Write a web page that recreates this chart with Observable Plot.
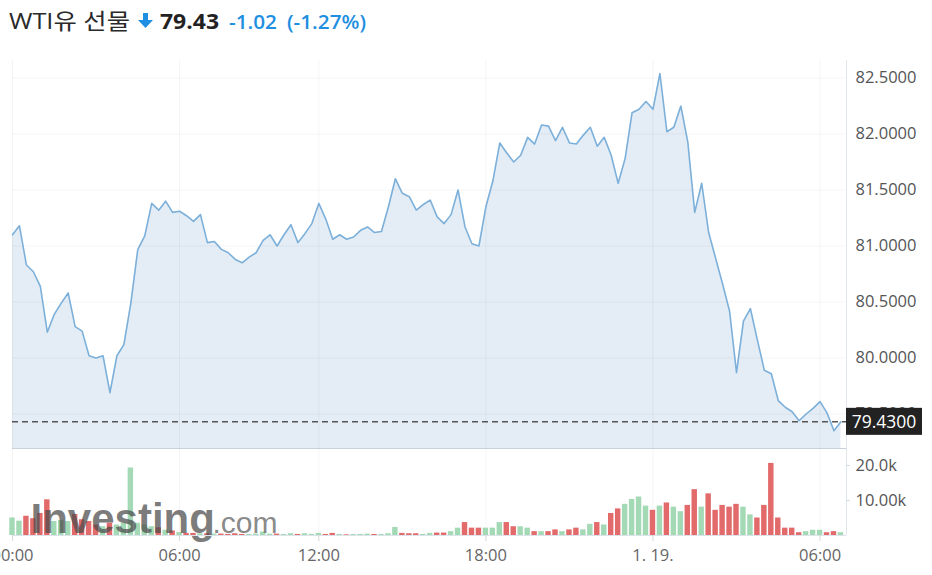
<!DOCTYPE html>
<html>
<head>
<meta charset="utf-8">
<script src="https://cdn.jsdelivr.net/npm/d3@7"></script>
<script src="https://cdn.jsdelivr.net/npm/@observablehq/plot@0.6"></script>
<style>
  html, body { margin: 0; padding: 0; background: #fff; }
  body { width: 932px; height: 575px; overflow: hidden; position: relative; font-family: "Open Sans", "Noto Sans CJK KR", sans-serif; }
  #title { position: absolute; left: 0; top: 0; }
  #price { position: absolute; left: 0; top: 40px; }
  #vol { position: absolute; left: 0; top: 448px; }
</style>
</head>
<body>
<svg id="title" width="932" height="40">
  <text x="9" y="28.5" font-size="21.5" fill="#2a2a2a" font-family="Open Sans, Noto Sans CJK KR" textLength="121" lengthAdjust="spacingAndGlyphs">WTI유 선물</text>
  <path d="M143 13 H148 V20 H153 L145.5 28 L138 20 H143 Z" fill="#1e8fe1"></path>
  <text x="160" y="28.5" font-size="21.5" font-weight="bold" fill="#222" font-family="Open Sans" textLength="59" lengthAdjust="spacingAndGlyphs">79.43</text>
  <text x="229" y="28.5" font-size="20" font-weight="600" fill="#1e8fe1" font-family="Open Sans" textLength="48" lengthAdjust="spacingAndGlyphs">-1.02</text>
  <text x="287" y="28.5" font-size="20" font-weight="600" fill="#1e8fe1" font-family="Open Sans" textLength="79" lengthAdjust="spacingAndGlyphs">(-1.27%)</text>
</svg>
<div id="price"></div>
<div id="vol"></div>
<script>
// 15-minute bars, index 0 = 00:00 (Jan 18); 07:00-08:00 session break skipped
const price = [
  81.10, 81.18, 80.83, 80.77, 80.64, 80.23, 80.39, 80.49, 80.58, 80.28,
  80.24, 80.02, 80.00, 80.02, 79.69, 80.02, 80.12, 80.49, 80.97, 81.09,
  81.38, 81.32, 81.40, 81.30, 81.31, 81.27, 81.22, 81.28, 81.03, 81.04,
  80.97, 80.94, 80.88, 80.85, 80.90, 80.94, 81.05, 81.10, 81.00, 81.10,
  81.19, 81.03, 81.11, 81.20, 81.38, 81.24, 81.06, 81.10, 81.06, 81.08,
  81.14, 81.17, 81.12, 81.13, 81.35, 81.60, 81.47, 81.44, 81.32, 81.37,
  81.41, 81.26, 81.20, 81.28, 81.50, 81.17, 81.02, 81.00, 81.35, 81.58,
  81.92, 81.83, 81.75, 81.81, 81.97, 81.91, 82.08, 82.07, 81.94, 82.06,
  81.92, 81.91, 81.99, 82.06, 81.89, 81.97, 81.81, 81.56, 81.78, 82.19,
  82.22, 82.29, 82.22, 82.54, 82.02, 82.06, 82.25, 81.93, 81.30, 81.56,
  81.12, 80.89, 80.66, 80.42, 79.87, 80.33, 80.44, 80.16, 79.89, 79.86,
  79.62, 79.56, 79.52, 79.44, 79.50, 79.55, 79.61, 79.51, 79.35, 79.43
];
// volume in thousands
const volume = [
  5.0, 4.1, 5.5, 4.8, 6.3, 10.2, 4.0, 4.3, 4.0, 6.0,
  4.5, 4.0, 3.0, 2.5, 3.5, 3.0, 3.5, 19.3, 3.5, 3.0,
  2.5, 2.2, 1.5, 1.3, 0.8, 0.6, 0.6, 0.5, 0.5, 0.4,
  0.4, 0.3, 0.5, 0.3, 0.3, 0.4, 1.0, 0.4, 0.4, 0.3,
  0.5, 0.3, 0.5, 0.3, 0.6, 0.3, 0.6, 0.3, 0.2, 0.3,
  0.3, 0.4, 0.3, 0.3, 0.5, 2.3, 0.6, 0.5, 0.5, 0.3,
  0.6, 0.7, 0.7, 1.1, 2.1, 3.7, 2.1, 2.1, 2.1, 2.1,
  3.7, 3.7, 2.5, 2.5, 2.1, 1.1, 1.1, 1.1, 1.6, 1.1,
  1.6, 2.1, 1.6, 3.2, 3.7, 3.0, 6.3, 7.6, 8.9, 10.3,
  11.0, 8.4, 7.2, 8.4, 9.3, 8.1, 6.8, 8.6, 13.1, 8.1,
  11.9, 7.2, 8.6, 8.1, 8.9, 8.1, 5.9, 5.0, 8.6, 20.6,
  5.0, 2.1, 2.1, 0.8, 1.1, 1.5, 1.5, 0.8, 1.1, 0.8
];
const tickIndex = [0, 24, 44, 68, 92, 116];
const tickLabels = ["00:00", "06:00", "12:00", "18:00", "1. 19.", "06:00"];
const priceTicks = [79.5, 80.0, 80.5, 81.0, 81.5, 82.0, 82.5];
const volTicks = [10, 20];
const volTickLabels = ["10.00k", "20.0k"];
const lastPrice = 79.43;

const priceDomain = [79.192, 82.656];
const volDomain = [0, 24.86];
const xDomain = [0, 119.8];

const data = price.map((p, i) => ({i, p, v: volume[i], up: i === 0 ? true : p >= price[i - 1]}));

const fontFam = "'Open Sans', 'Noto Sans', sans-serif";
const gridStroke = "#000";
const gridOpacity = 0.045;

const pricePlot = Plot.plot({
  width: 932, height: 408,
  marginTop: 20, marginBottom: 0, marginLeft: 12, marginRight: 86,
  x: {domain: xDomain, axis: null},
  y: {domain: priceDomain, axis: null},
  style: {fontFamily: fontFam, background: "#fff"},
  marks: [
    Plot.areaY(data, {x: "i", y1: priceDomain[0], y2: "p", fill: "#e4edf5"}),
    Plot.ruleY(priceTicks, {stroke: gridStroke, strokeOpacity: gridOpacity}),
    Plot.ruleX(tickIndex, {stroke: gridStroke, strokeOpacity: gridOpacity}),
    Plot.lineY(data, {x: "i", y: "p", stroke: "#7cb0da", strokeWidth: 1.6}),
    Plot.ruleY([lastPrice], {stroke: "#555", strokeWidth: 1.5, strokeDasharray: "6,4"}),
    Plot.ruleX([xDomain[1]], {stroke: "#e2e7ed"}),
    Plot.text(priceTicks, {y: d => d, frameAnchor: "right", dx: 9, textAnchor: "start", lineAnchor: "middle",
      text: d => d.toFixed(4), fill: "#555", fontSize: 16.5})
  ]
});
document.getElementById("price").appendChild(pricePlot);

// last-price label box on the right axis
(function () {
  const s = pricePlot.scale("y");
  const yf = s && s.apply ? s.apply : d3.scaleLinear(s.domain, s.range);
  const xs = pricePlot.scale("x");
  const xf = xs && xs.apply ? xs.apply : d3.scaleLinear(xs.domain, xs.range);
  const yp = yf(lastPrice);
  const x0 = xf(xDomain[1]);
  const g = d3.select(pricePlot).append("g");
  g.append("rect").attr("x", x0).attr("y", yp - 13.5).attr("width", 76).attr("height", 27).attr("fill", "#222");
  g.append("text").attr("x", x0 + 38).attr("y", yp).attr("dy", "0.36em").attr("text-anchor", "middle")
    .attr("fill", "#fff").attr("font-size", 17.5).attr("font-family", fontFam).text(lastPrice.toFixed(4));
})();

const volPlot = Plot.plot({
  width: 932, height: 127,
  marginTop: 0, marginBottom: 40, marginLeft: 12, marginRight: 86,
  x: {domain: xDomain, axis: null},
  y: {domain: volDomain, axis: null},
  style: {fontFamily: fontFam, background: "#fff"},
  marks: [
    Plot.ruleX(tickIndex, {stroke: gridStroke, strokeOpacity: gridOpacity}),
    Plot.rectY(data, {x1: d => d.i - 0.39, x2: d => d.i + 0.39, y: "v",
      fill: d => d.up ? "#a4d9b5" : "#e26a6a"}),
    Plot.text(["Investing"], {frameAnchor: "bottom-left", dx: 18, dy: -3, textAnchor: "start", lineAnchor: "bottom",
      fontSize: 42, fontWeight: "bold", fontFamily: "Liberation Sans, Arial, sans-serif", fill: "#4a4a4a", fillOpacity: 0.72}),
    Plot.text([".com"], {frameAnchor: "bottom-left", dx: 200, dy: -3, textAnchor: "start", lineAnchor: "bottom",
      fontSize: 30, fontFamily: "Liberation Sans, Arial, sans-serif", fill: "#6a6a6a", fillOpacity: 0.8}),
    Plot.ruleY([volDomain[1]], {stroke: "#c9d1db"}),
    Plot.ruleY([0], {stroke: "#dde3ea"}),
    Plot.ruleX([xDomain[1]], {stroke: "#e2e7ed"}),
    Plot.ruleX(tickIndex, {y1: 0, y2: 0, insetBottom: -6, stroke: "#d3d9e0"}),
    Plot.ruleY(volTicks, {x1: xDomain[1], x2: xDomain[1], insetRight: -4, stroke: "#d3d9e0"}),
    Plot.text(volTicks, {y: d => d, frameAnchor: "right", dx: 9, textAnchor: "start", lineAnchor: "middle",
      text: (d, i) => volTickLabels[i], fill: "#555", fontSize: 16.5}),
    Plot.text(tickIndex, {x: d => d, frameAnchor: "bottom", dy: 20, lineAnchor: "middle",
      text: (d, i) => tickLabels[i], fill: "#666", fontSize: 16.5})
  ]
});
document.getElementById("vol").appendChild(volPlot);
</script>
</body>
</html>
